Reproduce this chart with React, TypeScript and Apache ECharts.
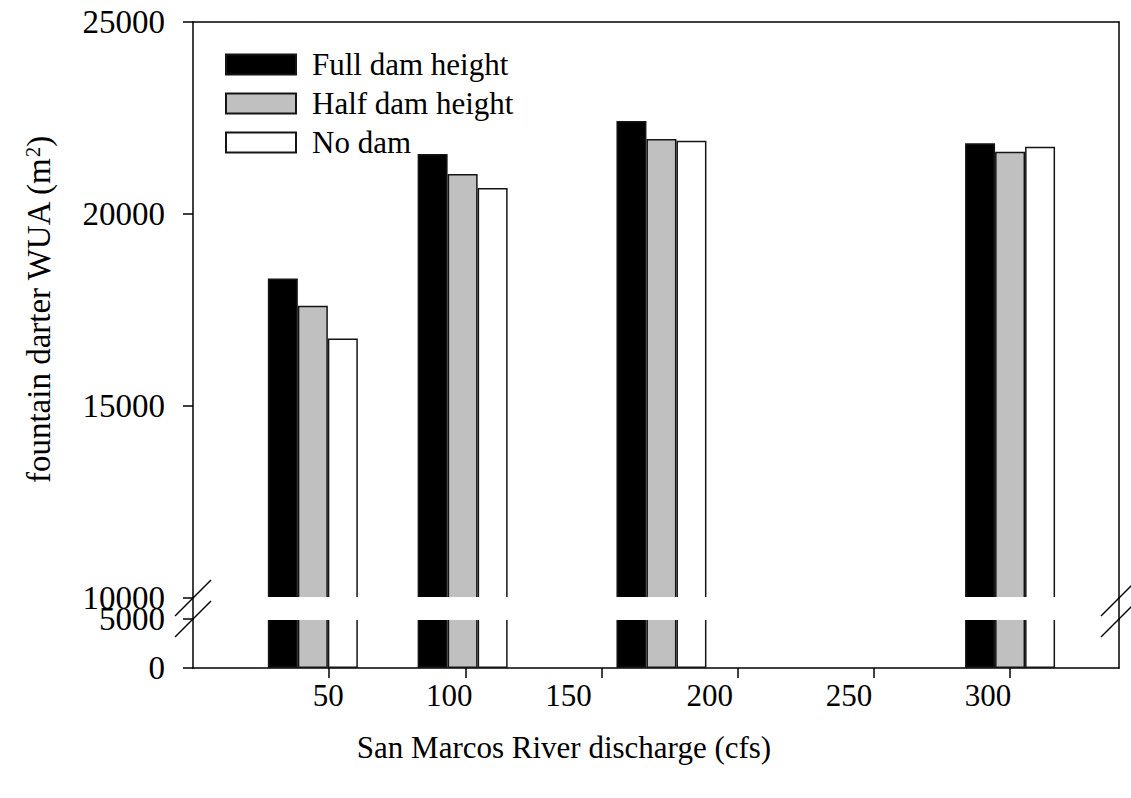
import React, { useEffect, useRef } from 'react';
import * as echarts from 'echarts';

// ---- data ----
const seriesNames = ['Full dam height', 'Half dam height', 'No dam'];
const discharge = [44, 99, 172, 300];
const fullDam = [18320, 21560, 22420, 21840];
const halfDam = [17610, 21040, 21950, 21620];
const noDam = [16760, 20680, 21910, 21750];
const xTicks = [50, 100, 150, 200, 250, 300];
const xRange = [0, 340];
const upperRange = [10000, 25000];
const lowerRange = [0, 5000];
const yInterval = 5000;

// style: horizontal nudge (px) of each x tick label, as printed in the source figure
const xLabelNudge = [-1, -16, -33, -28, -25, -22];

const barColors = ['#000000', '#c0c0c0', '#ffffff'];
const FONT = 'Liberation Serif';

export default function App() {
  const ref = useRef<HTMLDivElement>(null);

  useEffect(() => {
    if (!ref.current) return;
    const chart = echarts.init(ref.current, undefined, { renderer: 'svg' });

    const values = [fullDam, halfDam, noDam];
    const axisLineStyle = { color: '#000', width: 1.5 };

    const makeSeries = (gridIdx: number) =>
      seriesNames.map((name, i) => ({
        name,
        type: 'bar',
        xAxisIndex: gridIdx,
        yAxisIndex: gridIdx * 2,
        data: discharge.map((x, j) => [x, values[i][j]]),
        barWidth: 30,
        barGap: '0%',
        clip: true,
        itemStyle: { color: barColors[i], borderColor: '#151515', borderWidth: 1.5 },
        emphasis: { disabled: true },
      }));

    const breakLines = (cx: number, cy: number) => ({
      type: 'line',
      z: 200,
      shape: { x1: cx - 18, y1: cy + 18, x2: cx + 18, y2: cy - 18 },
      style: { stroke: '#000', lineWidth: 1.5 },
    });

    const xLabelRich: any = {};
    xTicks.forEach((t, i) => {
      const n = xLabelNudge[i];
      xLabelRich['t' + i] = {
        fontFamily: FONT, fontSize: 31, color: '#000',
        padding: n < 0 ? [0, -2 * n, 0, 0] : [0, 0, 0, 2 * n],
      };
    });

    const option: any = {
      animation: false,
      backgroundColor: '#fff',
      textStyle: { fontFamily: FONT, color: '#000' },
      legend: {
        orient: 'vertical',
        left: 220,
        top: 44,
        itemWidth: 70,
        itemHeight: 20,
        itemGap: 8,
        icon: 'rect',
        data: seriesNames,
        selectedMode: false,
        textStyle: { fontFamily: FONT, fontSize: 31, color: '#000', padding: [0, 0, 0, 11] },
      },
      grid: [
        { left: 193, right: 12, top: 22, height: 576 },
        { left: 193, right: 12, top: 619, height: 49 },
      ],
      xAxis: [
        {
          gridIndex: 0, type: 'value', min: xRange[0], max: xRange[1], position: 'top',
          axisLine: { show: true, onZero: false, lineStyle: axisLineStyle },
          axisTick: { show: false }, axisLabel: { show: false }, splitLine: { show: false },
        },
        {
          gridIndex: 1, type: 'value', min: xRange[0], max: xRange[1], position: 'bottom',
          axisLine: { show: true, onZero: false, lineStyle: axisLineStyle },
          axisTick: { show: true, customValues: xTicks, length: 10, lineStyle: axisLineStyle },
          axisLabel: {
            customValues: xTicks, fontFamily: FONT, fontSize: 31, color: '#000', margin: 12,
            formatter: (v: number) => {
              const i = xTicks.indexOf(v);
              return i >= 0 ? '{t' + i + '|' + v + '}' : String(v);
            },
            rich: xLabelRich,
          },
          splitLine: { show: false },
          name: 'San Marcos River discharge (cfs)',
          nameLocation: 'middle',
          nameGap: 64,
          nameTextStyle: { fontFamily: FONT, fontSize: 31, color: '#000', padding: [0, 184, 0, 0] },
        },
      ],
      yAxis: [
        {
          gridIndex: 0, type: 'value', min: upperRange[0], max: upperRange[1], interval: yInterval,
          position: 'left',
          axisLine: { show: true, onZero: false, lineStyle: axisLineStyle },
          axisTick: { show: true, length: 10, lineStyle: axisLineStyle },
          axisLabel: { fontFamily: FONT, fontSize: 33, color: '#000', margin: 28, formatter: (v: number) => String(v) },
          splitLine: { show: false },
          name: '{a|fountain darter WUA (m}{s|2}{a|)}',
          nameLocation: 'middle',
          nameGap: 138,
          nameTextStyle: {
            rich: {
              a: { fontFamily: FONT, fontSize: 33, color: '#000', verticalAlign: 'bottom', lineHeight: 33 },
              s: { fontFamily: FONT, fontSize: 21, color: '#000', verticalAlign: 'top', lineHeight: 21, padding: [0, 0, 19, 0] },
            },
          },
        },
        {
          gridIndex: 0, type: 'value', min: upperRange[0], max: upperRange[1], position: 'right',
          axisLine: { show: true, onZero: false, lineStyle: axisLineStyle },
          axisTick: { show: false }, axisLabel: { show: false }, splitLine: { show: false },
        },
        {
          gridIndex: 1, type: 'value', min: lowerRange[0], max: lowerRange[1], interval: yInterval,
          position: 'left',
          axisLine: { show: true, onZero: false, lineStyle: axisLineStyle },
          axisTick: { show: true, length: 10, lineStyle: axisLineStyle },
          axisLabel: { fontFamily: FONT, fontSize: 33, color: '#000', margin: 28, formatter: (v: number) => String(v) },
          splitLine: { show: false },
        },
        {
          gridIndex: 1, type: 'value', min: lowerRange[0], max: lowerRange[1], position: 'right',
          axisLine: { show: true, onZero: false, lineStyle: axisLineStyle },
          axisTick: { show: false }, axisLabel: { show: false }, splitLine: { show: false },
        },
      ],
      series: [...makeSeries(0), ...makeSeries(1)],
      graphic: [
        {
          type: 'rect', z: 150,
          shape: { x: 194.5, y: 597, width: 923, height: 23 },
          style: { fill: '#fff' },
        },
        { type: 'line', z: 160, shape: { x1: 193, y1: 597, x2: 193, y2: 620 }, style: { stroke: '#000', lineWidth: 1.5 } },
        { type: 'line', z: 160, shape: { x1: 1119, y1: 597, x2: 1119, y2: 620 }, style: { stroke: '#000', lineWidth: 1.5 } },
        breakLines(193, 598),
        breakLines(193, 619),
        breakLines(1119, 598),
        breakLines(1119, 619),
      ],
    };

    chart.setOption(option);
    return () => chart.dispose();
  }, []);

  return (
    <div
      ref={ref}
      style={{ position: 'absolute', left: 0, top: 0, width: 1131, height: 798, background: '#fff' }}
    />
  );
}
